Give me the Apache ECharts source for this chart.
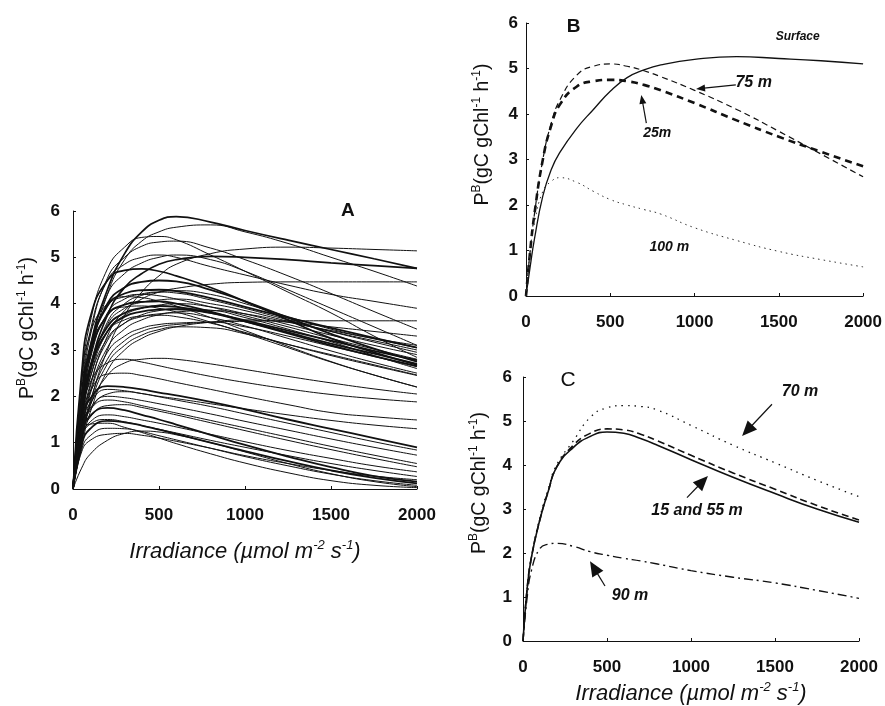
<!DOCTYPE html>
<html>
<head>
<meta charset="utf-8">
<script src="https://cdn.jsdelivr.net/npm/echarts@6/dist/echarts.min.js"></script>
<style>
  html, body { margin: 0; padding: 0; background: #fff; }
  #chart { width: 885px; height: 706px; }
</style>
</head>
<body>
<div id="chart"></div>
<script>
// ---- Panel A: all fitted P-I curves (irradiance grid + P^B values) ----
const irradianceA = [0, 50, 100, 200, 300, 400, 500, 600, 800, 1000, 1250, 1500, 1750, 2000];

const upperCurvesA = [
  [0, 1.75, 3.07, 4.30, 5.08, 5.55, 5.80, 5.88, 5.76, 5.58, 5.37, 5.17, 4.97, 4.76],
  [0, 1.60, 2.85, 4.20, 4.95, 5.35, 5.55, 5.65, 5.70, 5.55, 5.30, 5.00, 4.70, 4.38],
  [0, 2.30, 3.60, 4.75, 5.22, 5.43, 5.45, 5.38, 5.05, 4.70, 4.25, 3.80, 3.30, 2.84],
  [0, 2.00, 3.30, 4.55, 5.00, 5.24, 5.33, 5.35, 5.20, 4.95, 4.60, 4.22, 3.83, 3.45],
  [0, 1.00, 1.85, 3.00, 3.75, 4.25, 4.60, 4.85, 5.08, 5.18, 5.22, 5.20, 5.17, 5.14],
  [0, 1.80, 3.00, 4.20, 4.65, 4.88, 5.00, 5.05, 4.95, 4.70, 4.30, 3.90, 3.50, 3.10],
  [0, 2.50, 3.70, 4.50, 4.72, 4.75, 4.70, 4.60, 4.35, 4.05, 3.65, 3.25, 2.95, 2.68],
  [0, 1.50, 2.60, 3.75, 4.35, 4.65, 4.85, 4.95, 5.02, 5.00, 4.95, 4.88, 4.82, 4.76],
  [0, 1.20, 2.20, 3.30, 3.85, 4.10, 4.25, 4.33, 4.42, 4.46, 4.47, 4.47, 4.47, 4.47],
  [0, 1.10, 1.90, 2.80, 3.20, 3.40, 3.50, 3.55, 3.60, 3.62, 3.63, 3.63, 3.63, 3.63],
  [0, 2.10, 3.40, 4.50, 4.85, 5.00, 5.05, 5.00, 4.80, 4.62, 4.40, 4.20, 4.05, 3.90]
];

const middleCurvesA = [
  [0, 1.90, 3.00, 3.95, 4.22, 4.29, 4.30, 4.27, 4.12, 3.93, 3.70, 3.48, 3.26, 3.05],
  [0, 1.70, 2.80, 3.80, 4.10, 4.21, 4.25, 4.23, 4.08, 3.90, 3.65, 3.40, 3.17, 2.95],
  [0, 2.00, 3.10, 3.95, 4.15, 4.20, 4.17, 4.10, 3.93, 3.74, 3.50, 3.25, 3.02, 2.80],
  [0, 1.50, 2.55, 3.55, 3.90, 4.03, 4.08, 4.10, 4.00, 3.85, 3.62, 3.40, 3.20, 3.00],
  [0, 1.85, 2.90, 3.75, 3.98, 4.04, 4.05, 4.00, 3.83, 3.62, 3.36, 3.10, 2.87, 2.65],
  [0, 1.40, 2.40, 3.40, 3.75, 3.90, 3.97, 4.00, 3.93, 3.78, 3.55, 3.32, 3.10, 2.90],
  [0, 1.65, 2.65, 3.50, 3.80, 3.91, 3.95, 3.93, 3.80, 3.62, 3.38, 3.14, 2.92, 2.70],
  [0, 1.30, 2.25, 3.20, 3.58, 3.76, 3.85, 3.89, 3.86, 3.70, 3.45, 3.18, 2.88, 2.60],
  [0, 1.55, 2.55, 3.40, 3.72, 3.83, 3.87, 3.88, 3.80, 3.64, 3.42, 3.20, 2.98, 2.78],
  [0, 1.20, 2.10, 3.05, 3.45, 3.65, 3.76, 3.82, 3.85, 3.78, 3.60, 3.42, 3.25, 3.10],
  [0, 1.45, 2.40, 3.25, 3.58, 3.72, 3.78, 3.80, 3.70, 3.52, 3.25, 2.98, 2.73, 2.50],
  [0, 1.70, 2.65, 3.40, 3.65, 3.73, 3.75, 3.72, 3.58, 3.38, 3.12, 2.88, 2.66, 2.45],
  [0, 0.90, 1.65, 2.55, 3.00, 3.25, 3.40, 3.50, 3.60, 3.65, 3.60, 3.50, 3.40, 3.30],
  [0, 2.30, 3.35, 4.00, 4.15, 4.13, 4.05, 3.95, 3.70, 3.42, 3.08, 2.75, 2.46, 2.20],
  [0, 1.15, 2.05, 2.95, 3.30, 3.47, 3.55, 3.58, 3.60, 3.50, 3.30, 3.08, 2.86, 2.64],
  [0, 1.00, 1.80, 2.70, 3.10, 3.32, 3.44, 3.50, 3.48, 3.35, 3.12, 2.90, 2.68, 2.46],
  [0, 1.45, 2.50, 3.60, 4.00, 4.18, 4.25, 4.28, 4.20, 4.00, 3.72, 3.45, 3.24, 3.05],
  [0, 2.00, 3.00, 3.75, 3.93, 3.95, 3.90, 3.82, 3.60, 3.36, 3.05, 2.74, 2.46, 2.20],
  [0, 1.90, 3.00, 4.00, 4.35, 4.47, 4.50, 4.48, 4.30, 4.05, 3.70, 3.35, 3.03, 2.75]
];

const lowerCurvesA = [
  [0, 1.10, 1.80, 2.45, 2.72, 2.80, 2.82, 2.80, 2.70, 2.58, 2.43, 2.29, 2.16, 2.05],
  [0, 1.60, 2.30, 2.72, 2.80, 2.74, 2.66, 2.58, 2.43, 2.30, 2.16, 2.04, 1.95, 1.88],
  [0, 1.45, 1.95, 2.22, 2.20, 2.15, 2.08, 2.02, 1.88, 1.72, 1.50, 1.30, 1.10, 0.90],
  [0, 1.35, 1.85, 2.15, 2.12, 2.06, 1.99, 1.92, 1.78, 1.62, 1.42, 1.22, 1.02, 0.84],
  [0, 1.20, 1.70, 2.05, 2.10, 2.06, 2.00, 1.95, 1.84, 1.73, 1.60, 1.48, 1.38, 1.30],
  [0, 1.30, 1.75, 2.00, 1.97, 1.91, 1.84, 1.77, 1.62, 1.46, 1.27, 1.08, 0.90, 0.73],
  [0, 1.30, 1.72, 1.92, 1.88, 1.80, 1.72, 1.64, 1.48, 1.32, 1.12, 0.92, 0.73, 0.55],
  [0, 1.10, 1.55, 1.80, 1.82, 1.76, 1.68, 1.60, 1.43, 1.26, 1.05, 0.85, 0.66, 0.48],
  [0, 1.10, 1.45, 1.60, 1.56, 1.49, 1.42, 1.34, 1.18, 1.02, 0.83, 0.66, 0.50, 0.37],
  [0, 1.10, 1.40, 1.50, 1.45, 1.37, 1.29, 1.21, 1.05, 0.90, 0.72, 0.55, 0.40, 0.27],
  [0, 0.95, 1.30, 1.47, 1.44, 1.37, 1.28, 1.19, 1.00, 0.82, 0.60, 0.40, 0.24, 0.12],
  [0, 0.85, 1.15, 1.31, 1.30, 1.24, 1.15, 1.06, 0.88, 0.70, 0.50, 0.32, 0.18, 0.08],
  [0, 0.45, 0.75, 1.05, 1.20, 1.25, 1.23, 1.17, 1.00, 0.80, 0.55, 0.33, 0.16, 0.05],
  [0, 0.80, 1.05, 1.18, 1.20, 1.16, 1.10, 1.03, 0.88, 0.72, 0.55, 0.40, 0.28, 0.20],
  [0, 1.15, 1.40, 1.42, 1.33, 1.22, 1.10, 0.98, 0.76, 0.56, 0.35, 0.18, 0.08, 0.03],
  [0, 1.20, 1.58, 1.75, 1.70, 1.60, 1.50, 1.39, 1.17, 0.95, 0.70, 0.47, 0.28, 0.16],
  [0, 1.50, 2.10, 2.48, 2.50, 2.45, 2.38, 2.30, 2.15, 2.00, 1.82, 1.65, 1.56, 1.49]
];

// ---- Panels B and C: selected depths ----
const irradianceBC = [0, 25, 50, 100, 150, 200, 300, 400, 500, 600, 700, 800, 1000, 1250, 1500, 1750, 2000];

const surfaceB = [0, 0.65, 1.25, 2.20, 2.78, 3.15, 3.68, 4.10, 4.50, 4.80, 4.97, 5.08, 5.20, 5.26, 5.22, 5.17, 5.10];
const depth75B = [0, 1.00, 1.80, 3.00, 3.80, 4.30, 4.85, 5.05, 5.10, 5.05, 4.95, 4.82, 4.52, 4.10, 3.62, 3.12, 2.62];
const depth25B = [0, 1.00, 1.80, 3.00, 3.75, 4.20, 4.60, 4.72, 4.75, 4.72, 4.64, 4.52, 4.24, 3.86, 3.50, 3.17, 2.85];
const depth100B = [0, 1.00, 1.60, 2.30, 2.52, 2.60, 2.50, 2.30, 2.12, 2.00, 1.90, 1.80, 1.50, 1.22, 0.98, 0.80, 0.64];

const depth15C = [0, 1.20, 1.90, 2.75, 3.40, 3.95, 4.40, 4.65, 4.75, 4.72, 4.60, 4.45, 4.12, 3.72, 3.35, 3.00, 2.70];
const depth55C = [0, 1.20, 1.90, 2.75, 3.40, 3.95, 4.45, 4.72, 4.82, 4.80, 4.70, 4.55, 4.22, 3.82, 3.45, 3.08, 2.75];
const depth70C = [0, 1.20, 1.90, 2.80, 3.45, 4.00, 4.55, 5.08, 5.30, 5.35, 5.33, 5.25, 4.90, 4.45, 4.05, 3.65, 3.28];
const depth90C = [0, 1.00, 1.60, 2.10, 2.20, 2.22, 2.15, 2.03, 1.95, 1.88, 1.82, 1.75, 1.60, 1.45, 1.32, 1.15, 0.97];

const xTicks = [0, 500, 1000, 1500, 2000];
const yTicks = [0, 1, 2, 3, 4, 5, 6];

// ---- helpers ----
const FONT = "'Liberation Sans', Arial, sans-serif";
const zip = (xs, ys) => xs.map((x, i) => [x, ys[i]]);

const yName = '{n|P}{s|B}{n|(gC gChl}{s|-1}{n| h}{s|-1}{n|)}';
const xName = '{n|Irradiance (µmol m}{s|-2}{n| s}{s|-1}{n|)}';

function makeX(grid, withName, gap) {
  return {
    type: 'value', gridIndex: grid, min: xTicks[0], max: xTicks[xTicks.length - 1], interval: 500,
    axisLine: { show: true, onZero: false, lineStyle: { color: '#111', width: 1 } },
    axisTick: { show: true, inside: true, length: 3, lineStyle: { color: '#111' } },
    splitLine: { show: false },
    axisLabel: { fontFamily: FONT, fontSize: 17, fontWeight: 'bold', color: '#111', margin: 18,
      formatter: v => String(v) },
    name: withName ? xName : '',
    nameLocation: 'middle', nameGap: gap,
    nameTextStyle: {
      fontFamily: FONT, color: '#111',
      rich: {
        n: { fontSize: 22, fontStyle: 'italic', fontFamily: FONT, color: '#111', lineHeight: 26 },
        s: { fontSize: 13, fontStyle: 'italic', fontFamily: FONT, color: '#111', lineHeight: 14, verticalAlign: 'top' }
      }
    }
  };
}

function makeY(grid, gap, labelMargin, shift) {
  return {
    type: 'value', gridIndex: grid, min: yTicks[0], max: yTicks[yTicks.length - 1], interval: 1,
    axisLine: { show: true, lineStyle: { color: '#111', width: 1 } },
    axisTick: { show: true, inside: true, length: 3, lineStyle: { color: '#111' } },
    splitLine: { show: false },
    axisLabel: { fontFamily: FONT, fontSize: 17, fontWeight: 'bold', color: '#111', margin: labelMargin },
    name: yName, nameLocation: 'middle', nameRotate: 90, nameGap: gap,
    nameTextStyle: {
      fontFamily: FONT, color: '#111', padding: [0, 0, 0, shift],
      rich: {
        n: { fontSize: 19.5, fontFamily: FONT, color: '#111', lineHeight: 24 },
        s: { fontSize: 12, fontFamily: FONT, color: '#111', lineHeight: 15, verticalAlign: 'top' }
      }
    }
  };
}

function lineSeries(name, grid, xs, ys, style, smooth) {
  return {
    type: 'line', name: name, xAxisIndex: grid, yAxisIndex: grid,
    data: zip(xs, ys), showSymbol: false, symbol: 'none',
    smooth: smooth, silent: true,
    lineStyle: Object.assign({ color: '#111', width: 1 }, style)
  };
}

const series = [];
// heavier strokes where several curves overlap in panel A
const heavyUpper = [0, 6, 7];
const heavyMiddle = [0, 4, 6, 8, 18];
const heavyLower = [2, 10, 15];
upperCurvesA.forEach((c, i) => series.push(lineSeries('A-u' + i, 0, irradianceA, c, { width: heavyUpper.includes(i) ? 1.7 : 1 }, 0.5)));
middleCurvesA.forEach((c, i) => series.push(lineSeries('A-m' + i, 0, irradianceA, c, { width: heavyMiddle.includes(i) ? 1.8 : 1 }, 0.5)));
lowerCurvesA.forEach((c, i) => series.push(lineSeries('A-l' + i, 0, irradianceA, c, { width: heavyLower.includes(i) ? 1.8 : 1 }, 0.5)));

series.push(lineSeries('Surface', 1, irradianceBC, surfaceB, { width: 1.3 }, 0.5));
series.push(lineSeries('75 m', 1, irradianceBC, depth75B, { width: 1.2, type: [6, 4] }, 0.5));
series.push(lineSeries('25 m', 1, irradianceBC, depth25B, { width: 2.6, type: [7, 5] }, 0.5));
series.push(lineSeries('100 m', 1, irradianceBC, depth100B, { width: 1, type: [1.5, 4], color: '#333' }, 0.5));

series.push(lineSeries('15 m', 2, irradianceBC, depth15C, { width: 1.6 }, 0.5));
series.push(lineSeries('55 m', 2, irradianceBC, depth55C, { width: 1.6, type: [7, 4] }, 0.5));
series.push(lineSeries('70 m', 2, irradianceBC, depth70C, { width: 1.3, type: [1.5, 5] }, 0.5));
series.push(lineSeries('90 m', 2, irradianceBC, depth90C, { width: 1.4, type: [9, 4, 2, 4] }, 0.5));

const option = {
  animation: false,
  backgroundColor: '#fff',
  grid: [
    { left: 73, top: 211, width: 344, height: 278 },
    { left: 526, top: 23, width: 339, height: 273 },
    { left: 523, top: 377, width: 336, height: 269 }
  ],
  xAxis: [makeX(0, true, 50), makeX(1, false, 0), makeX(2, true, 40)],
  yAxis: [makeY(0, 33, 13, 44), makeY(1, 31, 8, 50), makeY(2, 31, 11, 52)],
  series: series
};

const chart = echarts.init(document.getElementById('chart'), null, { renderer: 'canvas' });
chart.setOption(option);

// ---- annotations placed in data coordinates ----
const panelLetters = [
  { grid: 0, at: [1598, 6.0], text: 'A', weight: 'bold', size: 19 },
  { grid: 1, at: [283, 5.91], text: 'B', weight: 'bold', size: 19 },
  { grid: 2, at: [268, 5.93], text: 'C', weight: 'normal', size: 21 }
];
const depthLabels = [
  { grid: 1, at: [1612, 5.69], text: 'Surface', size: 12 },
  { grid: 1, at: [1351, 4.68], text: '75 m', size: 16 },
  { grid: 1, at: [779, 3.58], text: '25m', size: 14 },
  { grid: 1, at: [850, 1.08], text: '100 m', size: 14 },
  { grid: 2, at: [1649, 5.67], text: '70 m', size: 16 },
  { grid: 2, at: [1036, 2.97], text: '15 and 55 m', size: 16 },
  { grid: 2, at: [637, 1.03], text: '90 m', size: 16 }
];
const arrows = [
  { grid: 1, from: [1245, 4.64], to: [1009, 4.55], len: 9, half: 3.5 },
  { grid: 1, from: [714, 3.80], to: [684, 4.42], len: 9, half: 3.5 },
  { grid: 2, from: [1482, 5.38], to: [1304, 4.66], len: 15, half: 6.5 },
  { grid: 2, from: [976, 3.26], to: [1101, 3.75], len: 15, half: 6.5 },
  { grid: 2, from: [488, 1.25], to: [399, 1.81], len: 15, half: 6.5 }
];

const toPx = (g, p) => chart.convertToPixel({ gridIndex: g }, p);
const graphics = [];
panelLetters.forEach(l => {
  const p = toPx(l.grid, l.at);
  graphics.push({ type: 'text', x: p[0], y: p[1], silent: true,
    style: { text: l.text, fontFamily: FONT, fontSize: l.size, fontWeight: l.weight, fill: '#111', align: 'center', verticalAlign: 'middle' } });
});
depthLabels.forEach(l => {
  const p = toPx(l.grid, l.at);
  graphics.push({ type: 'text', x: p[0], y: p[1], silent: true,
    style: { text: l.text, fontFamily: FONT, fontSize: l.size, fontWeight: 'bold', fontStyle: 'italic', fill: '#111', align: 'center', verticalAlign: 'middle' } });
});
arrows.forEach(a => {
  const t = toPx(a.grid, a.from), h = toPx(a.grid, a.to);
  const dx = h[0] - t[0], dy = h[1] - t[1], d = Math.hypot(dx, dy);
  const ux = dx / d, uy = dy / d;
  const bx = h[0] - ux * a.len, by = h[1] - uy * a.len;
  graphics.push({ type: 'line', silent: true,
    shape: { x1: t[0], y1: t[1], x2: bx + ux * 1, y2: by + uy * 1 },
    style: { stroke: '#111', lineWidth: 1.2 } });
  graphics.push({ type: 'polygon', silent: true,
    shape: { points: [[h[0], h[1]], [bx - uy * a.half, by + ux * a.half], [bx + uy * a.half, by - ux * a.half]] },
    style: { fill: '#111' } });
});
chart.setOption({ graphic: graphics });
</script>
</body>
</html>
